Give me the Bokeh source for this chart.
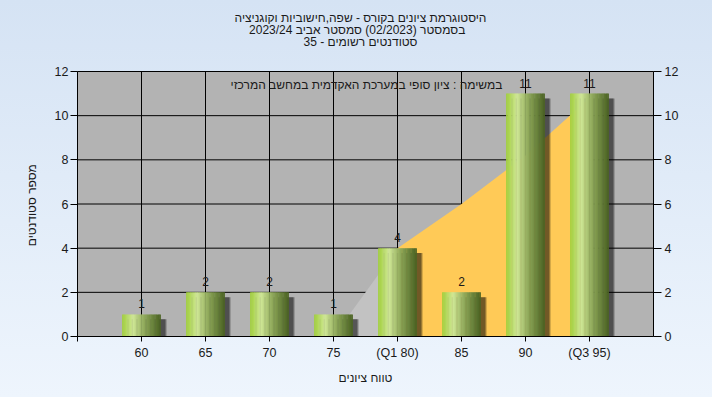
from bokeh.plotting import figure
from bokeh.models import Range1d, FixedTicker, LinearAxis, Label, ColumnDataSource, BoxAnnotation
from bokeh.transform import dodge
from bokeh.embed import file_html
from bokeh.resources import INLINE
from bokeh.core.properties import value

# ---------------- data ----------------
categories = ["60", "65", "70", "75", "(Q1 80)", "85", "90", "(Q3 95)"]
counts = [1, 2, 2, 1, 4, 2, 11, 11]
area_values = [0, 0, 0, 0, 4, 6, 8.2, 10.8]
q1_index = 4
q3_index = 7
y_ticks = [0, 2, 4, 6, 8, 10, 12]
title_lines = [
    "היסטוגרמת ציונים בקורס - שפה,חישוביות וקוגניציה",
    "בסמסטר  (02/2023)  סמסטר אביב 2023/24",
    "סטודנטים רשומים - 35",
]
subtitle = "במשימה : ציון סופי במערכת האקדמית במחשב המרכזי"
x_label = "טווח ציונים"
y_label = "מספר סטודנטים"

FONT = "Liberation Sans"
TXT = "#1a1a1a"

positions = list(range(1, len(categories) + 1))
x_max = len(categories) + 1
y_max = y_ticks[-1]

# layout (pixels)
W, H = 712, 397
B_LEFT, B_RIGHT, B_BOTTOM = 77, 59, 61
PLOT_TOP = 71                      # top of the grey plot area
frame_h = H - B_BOTTOM             # frame spans whole height above the x axis
plot_h = frame_h - PLOT_TOP
px_per_y = plot_h / y_max
px_per_x = (W - B_LEFT - B_RIGHT) / x_max


def ydata(ypix):
    return (frame_h - ypix) / px_per_y


def xdata(xpix):
    return (xpix - B_LEFT) / px_per_x


p = figure(width=W, height=H, x_range=Range1d(0, x_max),
           y_range=Range1d(0, frame_h / px_per_y), output_backend="svg",
           toolbar_location=None, min_border_left=B_LEFT,
           min_border_right=B_RIGHT, min_border_top=0,
           min_border_bottom=B_BOTTOM)

p.border_fill_color = None
p.background_fill_color = None
p.outline_line_color = None
p.styles = {"background": "linear-gradient(#d5e3f4, #eef5fd)"}
p.xgrid.visible = False
p.ygrid.visible = False

# grey plot area with black border
p.add_layout(BoxAnnotation(left=0, right=x_max, bottom=0, top=y_max,
                           fill_color="#b3b3b3", fill_alpha=1,
                           line_color="black", line_width=1, line_alpha=1,
                           level="image"))

# grid lines
p.segment(x0=[0] * len(y_ticks), x1=[x_max] * len(y_ticks), y0=y_ticks, y1=y_ticks,
          line_color="black", line_width=1, level="underlay")
p.segment(x0=positions, x1=positions, y0=[0] * len(positions), y1=[y_max] * len(positions),
          line_color="black", line_width=1, level="underlay")

# area (grey before Q1, yellow between Q1 and Q3)
gx = positions[q1_index - 1:q1_index + 1]
gy = area_values[q1_index - 1:q1_index + 1]
p.varea(x=gx, y1=[0] * len(gx), y2=gy, fill_color="#c2c2c2")
yx = positions[q1_index:q3_index + 1]
yy = area_values[q1_index:q3_index + 1]
p.varea(x=yx, y1=[0] * len(yx), y2=yy, fill_color="#ffca57")

# shadows
bar_w = 0.6
src = ColumnDataSource(dict(x=positions, top=counts,
                            stop=[c - 0.22 for c in counts],
                            lbl=[str(c) for c in counts]))
for off, w, a in [(0.095, bar_w, 0.18), (0.085, bar_w, 0.22), (0.075, bar_w - 0.01, 0.3)]:
    p.vbar(x=dodge("x", off, range=p.x_range), top="stop", bottom=0, width=w,
           source=src, fill_color="black", fill_alpha=a, line_color=None)

# bars with horizontal cylinder gradient (thin strips)
stops = [(0.0, (160, 206, 58)), (0.28, (208, 232, 150)), (0.6, (138, 164, 86)), (1.0, (74, 98, 34))]


def grad(t):
    for (t0, c0), (t1, c1) in zip(stops[:-1], stops[1:]):
        if t0 <= t <= t1:
            f = (t - t0) / (t1 - t0)
            return "#%02x%02x%02x" % tuple(int(round(a + (b - a) * f)) for a, b in zip(c0, c1))
    return "#%02x%02x%02x" % stops[-1][1]


N = 30
sx, st, sc = [], [], []
for xc, c in zip(positions, counts):
    for k in range(N):
        t = (k + 0.5) / N
        sx.append(xc - bar_w / 2 + t * bar_w)
        st.append(c)
        sc.append(grad(t))
p.vbar(x=sx, top=st, bottom=0, width=bar_w / N * 1.3, fill_color=sc, line_color=None)

# value labels
p.text(x="x", y="top", text="lbl", source=src, text_align="center",
       text_baseline="bottom", y_offset=-6, text_font=value(FONT),
       text_font_size="12px", text_color=TXT)

# axes
xa = p.xaxis[0]
xa.ticker = FixedTicker(ticks=[0] + positions)
xa.major_label_overrides = {0: ""} | {pos: cat for pos, cat in zip(positions, categories)}
xa.axis_label = x_label
xa.major_tick_out = 5
xa.major_tick_in = 0
xa.minor_tick_line_color = None
xa.major_label_standoff = 4

ya = p.yaxis[0]
ya.ticker = FixedTicker(ticks=y_ticks)
ya.bounds = (0, y_max)
# trailing no-break spaces keep the label centred on the grey plot area
ya.axis_label = y_label + "\u00a0" * 22
ya.major_tick_out = 7
ya.major_tick_in = 0
ya.minor_tick_line_color = None
ya.major_label_standoff = 2
ya.axis_label_standoff = 13

ra = LinearAxis(ticker=FixedTicker(ticks=y_ticks), bounds=(0, y_max))
ra.major_tick_out = 8
ra.major_tick_in = 0
ra.minor_tick_line_color = None
ra.major_label_standoff = 3
p.add_layout(ra, "right")

for ax in (xa, ya, ra):
    ax.axis_line_color = "black"
    ax.major_tick_line_color = "black"
    ax.major_label_text_font = FONT
    ax.major_label_text_font_size = "12.5px"
    ax.major_label_text_color = TXT
    ax.axis_label_text_font = FONT
    ax.axis_label_text_font_size = "12px"
    ax.axis_label_text_font_style = "normal"
    ax.axis_label_text_color = TXT
xa.axis_label_standoff = 8

# titles
for line, ypix in zip(title_lines, [17.2, 29.9, 41.7]):
    p.add_layout(Label(x=xdata(360), y=ydata(ypix), text=line,
                       text_align="center", text_baseline="middle",
                       text_font=FONT, text_font_size="12px", text_color=TXT))

# in-plot caption
p.add_layout(Label(x=xdata(366), y=ydata(84.3), text=subtitle,
                   text_align="center", text_baseline="middle",
                   text_font=FONT, text_font_size="12px", text_color=TXT))

open("out.html", "w").write(file_html(p, INLINE))
